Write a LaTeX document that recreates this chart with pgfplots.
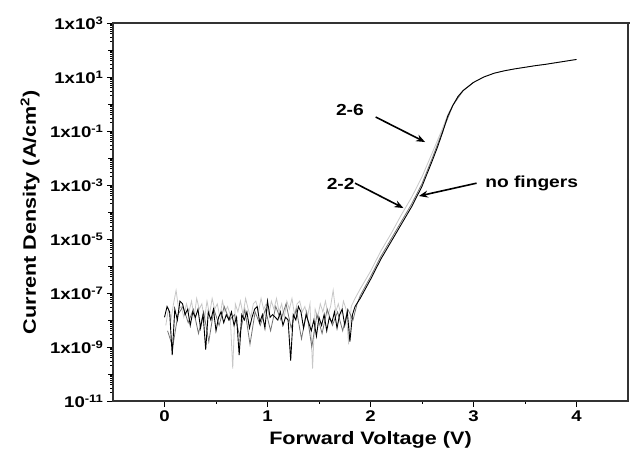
\documentclass[border=0pt]{standalone}
\usepackage{fontspec}
\setmainfont{Liberation Sans}[FakeStretch=1.2]
\usepackage{pgfplots}
\pgfplotsset{compat=1.18}
\usetikzlibrary{calc,arrows.meta}
\definecolor{frame}{rgb}{0.2,0.2,0.2}

\def\minorlist{2e-11}
\foreach \e in {-11,...,2}{\foreach \m in {2,...,9}{\xdef\minorlist{\minorlist,\m e\e}}}

\pgfplotstableread{
x y
0.000 1.26e-8
0.025 3.16e-8
0.050 2.0e-8
0.075 5.01e-10
0.100 2.51e-8
0.125 1e-8
0.150 5.01e-8
0.175 3.98e-8
0.200 1.58e-8
0.225 2.51e-8
0.250 6.31e-9
0.275 2.0e-8
0.300 1.26e-8
0.325 2.51e-8
0.350 5.01e-9
0.375 1.58e-8
0.400 7.94e-10
0.425 2.0e-8
0.450 1e-8
0.475 2.51e-8
0.500 3.98e-9
0.525 1.26e-8
0.550 2.0e-8
0.575 7.94e-9
0.600 1.58e-8
0.625 1e-8
0.650 2.0e-8
0.675 6.31e-9
0.700 1.26e-8
0.725 5.01e-10
0.750 1.58e-8
0.775 1e-8
0.800 2.0e-8
0.825 5.01e-9
0.850 1.26e-8
0.875 2.51e-8
0.900 3.16e-8
0.925 7.94e-9
0.950 1.58e-8
0.975 5.01e-9
1.000 5.01e-8
1.025 1.26e-8
1.050 1.58e-8
1.075 1.26e-8
1.100 1e-8
1.125 2.0e-8
1.150 6.31e-9
1.175 1.26e-8
1.200 1e-8
1.225 3.16e-10
1.250 1.58e-8
1.275 1e-8
1.300 3.16e-8
1.325 2.0e-8
1.350 5.01e-9
1.375 1.58e-8
1.400 7.94e-9
1.425 3.98e-9
1.450 1e-8
1.475 2.51e-9
1.500 1.26e-8
1.525 6.31e-9
1.550 1.58e-8
1.575 3.98e-9
1.600 1.26e-8
1.625 7.94e-9
1.650 2.0e-8
1.675 5.01e-9
1.700 1.58e-8
1.725 2.51e-8
1.750 6.31e-9
1.775 2.0e-8
1.800 1.58e-9
1.825 1.58e-8
1.850 3.16e-8
1.90 6.31e-8
2.00 3.16e-7
2.10 1.78e-6
2.20 7.94e-6
2.30 3.55e-5
2.40 1.58e-4
2.50 8.91e-4
2.60 7.94e-3
2.65 2.51e-2
2.70 8.91e-2
2.75 0.355
2.80 0.891
2.85 1.91
2.90 3.16
3.00 6.31
3.10 10
3.20 13.8
3.30 17.0
3.40 20.0
3.50 22.9
3.60 26.3
3.70 29.5
3.80 33.9
3.90 38.9
4.00 44.7
}\nofingers

\pgfplotstableread{
x y
0.0125 6.31e-9
0.0375 2.51e-8
0.0625 1e-8
0.0875 3.98e-8
0.1125 1.26e-7
0.1375 2.51e-8
0.1625 3.16e-8
0.1875 1.26e-8
0.2125 3.98e-8
0.2375 2.0e-8
0.2625 5.01e-8
0.2875 1.26e-8
0.3125 6.31e-8
0.3375 2.51e-8
0.3625 3.98e-8
0.3875 1e-8
0.4125 5.01e-8
0.4375 1.58e-8
0.4625 6.31e-8
0.4875 2.51e-8
0.5125 3.98e-8
0.5375 1.26e-8
0.5625 5.01e-8
0.5875 2.0e-8
0.6125 3.16e-8
0.6375 1.58e-8
0.6625 1.58e-10
0.6875 3.98e-8
0.7125 2.0e-8
0.7375 5.01e-8
0.7625 1.58e-8
0.7875 6.31e-8
0.8125 2.51e-8
0.8375 1.26e-8
0.8625 3.98e-8
0.8875 5.01e-8
0.9125 2.0e-8
0.9375 6.31e-8
0.9625 2.51e-8
0.9875 3.98e-8
1.0125 1.58e-8
1.0375 5.01e-8
1.0625 2.51e-8
1.0875 6.31e-8
1.1125 2.0e-8
1.1375 3.98e-8
1.1625 1.26e-8
1.1875 5.01e-8
1.2125 2.51e-8
1.2375 6.31e-8
1.2625 1.58e-8
1.2875 3.98e-8
1.3125 5.01e-8
1.3375 2.0e-8
1.3625 3.16e-8
1.3875 1.26e-8
1.4125 3.98e-8
1.4375 1.58e-10
1.4625 2.51e-8
1.4875 1.26e-8
1.5125 3.98e-8
1.5375 2.0e-8
1.5625 5.01e-8
1.5875 1.58e-8
1.6125 3.16e-8
1.6375 1.26e-7
1.6625 2.0e-8
1.6875 3.98e-8
1.7125 1.58e-8
1.7375 5.01e-8
1.7625 2.51e-8
1.7875 1.26e-9
1.8125 3.16e-8
1.85 6.31e-8
1.90 1.41e-7
2.00 6.31e-7
2.10 3.55e-6
2.20 1.58e-5
2.30 7.94e-5
2.40 3.55e-4
2.50 2.0e-3
2.60 1.58e-2
2.70 0.126
2.75 0.398
2.80 0.933
2.85 1.91
2.90 3.16
3.00 6.31
3.10 10
3.20 13.8
3.30 17.0
3.40 20.0
3.50 22.9
3.60 26.3
3.70 29.5
3.80 33.9
3.90 38.9
4.00 44.7
}\twosix

\pgfplotstableread{
x y
0.03 3.98e-9
0.08 1e-9
0.13 1.58e-8
0.18 3.16e-8
0.23 7.94e-9
0.28 2.51e-8
0.33 3.16e-9
0.38 2.0e-8
0.43 1.58e-9
0.48 2.51e-8
0.53 6.31e-9
0.58 3.16e-8
0.63 1e-8
0.68 1.58e-8
0.73 2.51e-9
0.78 2.51e-8
0.83 1.26e-9
0.88 2.0e-8
0.93 6.31e-9
0.98 2.51e-8
1.03 3.98e-9
1.08 3.16e-8
1.13 1e-8
1.18 3.98e-8
1.23 5.01e-9
1.28 2.51e-8
1.33 2.0e-9
1.38 2.0e-8
1.43 1e-9
1.48 1.58e-8
1.53 3.16e-9
1.58 2.51e-8
1.63 6.31e-9
1.68 2.0e-8
1.73 3.98e-9
1.78 2.51e-8
1.83 1e-8
1.87 3.98e-8
1.90 7.94e-8
2.00 3.98e-7
2.10 2.24e-6
2.20 1e-5
2.30 4.47e-5
2.40 2.0e-4
2.50 1.12e-3
2.60 1e-2
2.70 0.1
2.80 0.891
2.90 3.16
3.00 6.31
}\twotwo

\begin{document}
\begin{tikzpicture}
\begin{axis}[
  name=ax,
  scale only axis,
  width=515pt, height=378pt,
  xmin=-0.5, xmax=4.5,
  ymode=log, ymin=1e-11, ymax=1e3,
  xtick={0,1,2,3,4},
  xticklabels={0,1,2,3,4},
  minor xtick={0.5,1.5,2.5,3.5},
  ytick={1e-11,1e-9,1e-7,1e-5,1e-3,1e-1,1e1,1e3},
  yticklabels={10\textsuperscript{-11},1x10\textsuperscript{-9},1x10\textsuperscript{-7},1x10\textsuperscript{-5},1x10\textsuperscript{-3},1x10\textsuperscript{-1},1x10\textsuperscript{1},1x10\textsuperscript{3}},
  minor ytick/.expanded={\minorlist},
  extra y ticks={1e-10,1e-8,1e-6,1e-4,1e-2,1e0,1e2},
  extra y tick labels={},
  extra y tick style={major tick length=4.5pt},
  tick pos=left,
  tick align=outside,
  major tick length=6pt,
  minor tick length=2.5pt,
  axis line style={line width=1.1pt, frame},
  every tick/.style={black, line width=0.9pt},
  tick label style={font=\fontsize{15.5}{17}\selectfont\bfseries},
  xlabel={Forward Voltage (V)},
  ylabel={Current Density (A/cm\textsuperscript{2})},
  label style={font=\fontsize{18}{20}\selectfont\bfseries},
  xlabel style={at={(axis description cs:0.5,-0.103)}, anchor=center},
  ylabel style={at={(axis description cs:-0.161,0.5)}, anchor=center},
]
\addplot[black!22, line width=0.8pt] table[x=x,y=y] {\twosix};
\addplot[black!55, line width=0.8pt] table[x=x,y=y] {\twotwo};
\addplot[black, line width=0.9pt] table[x=x,y=y] {\nofingers};

\node[font=\fontsize{16}{18}\selectfont\bfseries] at (axis cs:1.80,0.6) {2-6};
\node[font=\fontsize{16}{18}\selectfont\bfseries] at (axis cs:1.71,1.1e-3) {2-2};
\node[font=\fontsize{16}{18}\selectfont\bfseries, anchor=west] at (axis cs:3.08,1.17e-3) {no fingers};
\draw[-{Stealth[length=9pt,width=7pt]}, line width=1.6pt] (axis cs:2.05,0.33) -- (axis cs:2.53,0.039);
\draw[-{Stealth[length=9pt,width=7pt]}, line width=1.6pt] (axis cs:1.85,1.17e-3) -- (axis cs:2.32,1.4e-4);
\draw[-{Stealth[length=9pt,width=7pt]}, line width=1.6pt] (axis cs:3.03,1.17e-3) -- (axis cs:2.47,3.9e-4);
\end{axis}
\draw[draw=frame, line width=1.5pt] (ax.north west) -- ($(ax.north east)+(2pt,0)$);
\pgfresetboundingbox
\path ($(ax.south west)+(-113pt,-60pt)$) rectangle ($(ax.north east)+(2pt,23pt)$);
\end{tikzpicture}
\end{document}
